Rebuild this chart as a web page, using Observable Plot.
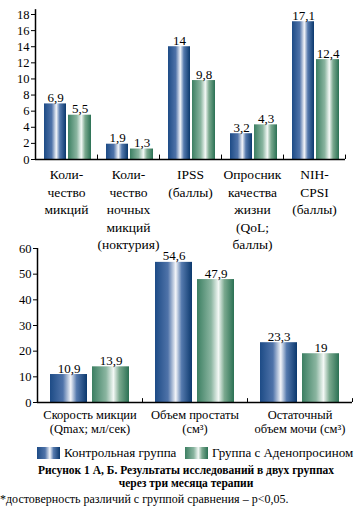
<!DOCTYPE html>
<html><head><meta charset="utf-8">
<script src="https://cdn.jsdelivr.net/npm/d3@7"></script>
<script src="https://cdn.jsdelivr.net/npm/@observablehq/plot@0.6"></script>
<style>
body{margin:0;background:#fff;font-family:"Liberation Serif","DejaVu Serif","Noto Serif","Times New Roman",Times,serif;color:#000}
#wrap{position:relative;width:360px;height:516px;overflow:hidden}
#c1{position:absolute;left:0;top:0}
#c2{position:absolute;left:0;top:242px}
.sw{position:absolute;top:447px;width:23px;height:12px}
.lt{position:absolute;top:445px;font-size:13px;line-height:16px;white-space:nowrap}
#cap{position:absolute;left:6px;width:360px;top:464px;text-align:center;font-weight:bold;font-size:11.5px;line-height:13px}
#foot{position:absolute;left:0;top:492px;font-size:12px;line-height:14px;white-space:nowrap}
</style></head>
<body>
<svg width="0" height="0" style="position:absolute">
<defs>
<linearGradient id="gBlue" x1="0" x2="1" y1="0" y2="0">
<stop offset="0" stop-color="#1d4b86"/><stop offset="0.35" stop-color="#4f73a9"/><stop offset="0.56" stop-color="#f3f5f9"/><stop offset="0.72" stop-color="#5479ad"/><stop offset="1" stop-color="#0b386d"/>
</linearGradient>
<linearGradient id="gGreen" x1="0" x2="1" y1="0" y2="0">
<stop offset="0" stop-color="#3c7f62"/><stop offset="0.38" stop-color="#8ab5a0"/><stop offset="0.58" stop-color="#f3f8f5"/><stop offset="0.74" stop-color="#7ba98f"/><stop offset="1" stop-color="#2b7154"/>
</linearGradient>
</defs></svg>
<div id="wrap">
<div id="c1"></div>
<div id="c2"></div>
<div class="sw" style="left:37px;background:linear-gradient(90deg,#1d4b86 0%,#4f73a9 35%,#f3f5f9 56%,#5479ad 72%,#0b386d 100%)"></div>
<div class="lt" style="left:64px">Контрольная группа</div>
<div class="sw" style="left:185px;background:linear-gradient(90deg,#3c7f62 0%,#8ab5a0 38%,#f3f8f5 58%,#7ba98f 74%,#2b7154 100%)"></div>
<div class="lt" style="left:212px">Группа с Аденопросином</div>
<div id="cap">Рисунок 1 А, Б. Результаты исследований в двух группах<br>через три месяца терапии</div>
<div id="foot">*достоверность различий с группой сравнения – p&lt;0,05.</div>
</div>
<script>
const cats1 = ["Количество микций", "Количество ночных микций (ноктурия)", "IPSS (баллы)", "Опросник качества жизни (QoL; баллы)", "NIH-CPSI (баллы)"];
const labels1 = ["Коли-\nчество\nмикций", "Коли-\nчество\nночных\nмикций\n(ноктурия)", "IPSS\n(баллы)", "Опросник\nкачества\nжизни\n(QoL;\nбаллы)", "NIH-\nCPSI\n(баллы)"];
const control1 = [6.9, 1.9, 14, 3.2, 17.1];
const adeno1 = [5.5, 1.3, 9.8, 4.3, 12.4];
const yTicks1 = [0, 2, 4, 6, 8, 10, 12, 14, 16, 18];

const cats2 = ["Скорость микции (Qmax; мл/сек)", "Объем простаты (см³)", "Остаточный объем мочи (см³)"];
const labels2 = ["Скорость микции\n(Qmax; мл/сек)", "Объем простаты\n(см³)", "Остаточный\nобъем мочи (см³)"];
const control2 = [10.9, 54.6, 23.3];
const adeno2 = [13.9, 47.9, 19];
const yTicks2 = [0, 10, 20, 30, 40, 50, 60];

const fmt = v => String(v).replace(".", ",");
const font = "'Liberation Serif', 'DejaVu Serif', 'Noto Serif', 'Times New Roman', Times, serif";

function chart({cats, labels, control, adeno, ticks, yMax, height, mTop, mLeft, mRight, mBottom, bw, inC, inA, tickLen, labelSize, lineHeight, tickPad}) {
  const dC = cats.map((c, i) => ({cat: c, v: control[i]}));
  const dA = cats.map((c, i) => ({cat: c, v: adeno[i]}));
  const lab = new Map(cats.map((c, i) => [c, labels[i]]));
  const cC = (inC[0] + (bw - inC[1])) / 2 - bw / 2;
  const cA = (inA[0] + (bw - inA[1])) / 2 - bw / 2;
  return Plot.plot({
    width: 360, height,
    marginTop: mTop, marginLeft: mLeft, marginRight: mRight, marginBottom: mBottom,
    style: {fontFamily: font, background: "none", overflow: "visible", color: "#000"},
    x: {domain: cats, padding: 0, round: false},
    y: {domain: [0, ticks[ticks.length - 1]]},
    marks: [
      Plot.barY(dC, {x: "cat", y: "v", fill: "url(#gBlue)", insetLeft: inC[0], insetRight: inC[1]}),
      Plot.barY(dA, {x: "cat", y: "v", fill: "url(#gGreen)", insetLeft: inA[0], insetRight: inA[1]}),
      Plot.text(dC, {x: "cat", y: "v", text: d => fmt(d.v), dx: cC, dy: -2, lineAnchor: "bottom", fontSize: 13, fontFamily: font, fill: "#000"}),
      Plot.text(dA, {x: "cat", y: "v", text: d => fmt(d.v), dx: cA, dy: -2, lineAnchor: "bottom", fontSize: 13, fontFamily: font, fill: "#000"}),
      Plot.ruleY([0], {stroke: "#000", strokeWidth: 1.5}),
      Plot.ruleX([cats[0]], {dx: -bw / 2, y1: 0, y2: yMax, stroke: "#000", strokeWidth: 1.5}),
      Plot.ruleX(cats, {dx: bw / 2, y1: 0, y2: tickLen, stroke: "#000", strokeWidth: 1}),
      Plot.axisY({ticks, tickSize: 4, tickPadding: 2, fontSize: 12.5, fontFamily: font, label: null, stroke: "#000"}),
      Plot.axisX({tickSize: 0, tickPadding: tickPad, tickFormat: c => lab.get(c), fontSize: labelSize, lineHeight, fontFamily: font, label: null, lineAnchor: "top"})
    ]
  });
}

document.getElementById("c1").append(chart({
  cats: cats1, labels: labels1, control: control1, adeno: adeno1, ticks: yTicks1, yMax: 18.6,
  height: 242, mTop: 14, mLeft: 35, mRight: 15, mBottom: 83, bw: 62,
  inC: [9, 31], inA: [33, 6], tickLen: 0.55, labelSize: 13.5, lineHeight: 1.3, tickPad: 7
}));
document.getElementById("c2").append(chart({
  cats: cats2, labels: labels2, control: control2, adeno: adeno2, ticks: yTicks2, yMax: 60,
  height: 196, mTop: 6, mLeft: 37, mRight: 8, mBottom: 36, bw: 105,
  inC: [13, 55], inA: [55, 13], tickLen: 1.5, labelSize: 12.5, lineHeight: 1.15, tickPad: 6
}));
</script>
</body></html>
